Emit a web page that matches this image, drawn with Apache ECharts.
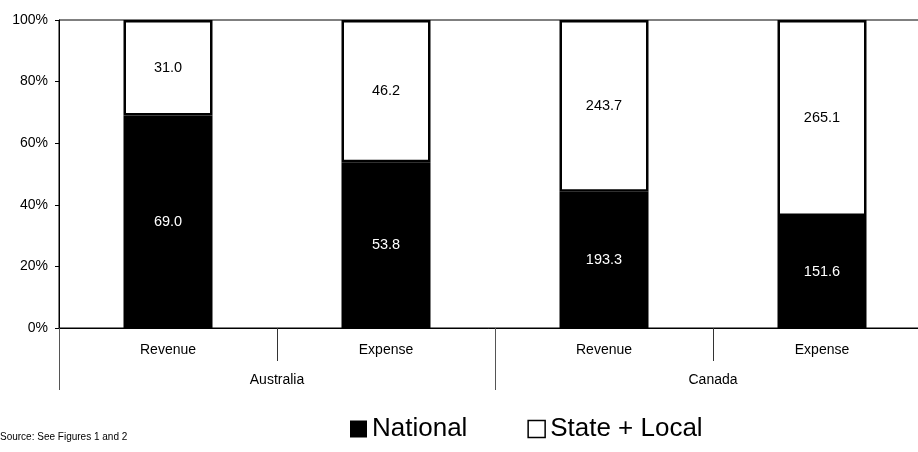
<!DOCTYPE html>
<html>
<head>
<meta charset="utf-8">
<script src="https://cdn.jsdelivr.net/npm/echarts@6/dist/echarts.min.js"></script>
<style>
html,body{margin:0;padding:0;background:#fff;}
#chart{width:918px;height:452px;}
</style>
</head>
<body>
<div id="chart"></div>
<script>
const categories = ["Revenue", "Expense", "Revenue", "Expense"];
const groups = ["Australia", "Canada"];
const nationalValues = [69.0, 53.8, 193.3, 151.6];
const stateLocalValues = [31.0, 46.2, 243.7, 265.1];
const yTicks = ["0%", "20%", "40%", "60%", "80%", "100%"];
const sourceNote = "Source: See Figures 1 and 2";

const FONT = "'Liberation Sans', Arial, sans-serif";
const totals = nationalValues.map((v, i) => v + stateLocalValues[i]);
const nationalShare = nationalValues.map((v, i) => ({value: v / totals[i] * 100, raw: v}));
const stateShare = stateLocalValues.map((v, i) => ({value: v / totals[i] * 100, raw: v}));

const chart = echarts.init(document.getElementById('chart'), null, {renderer: 'canvas'});
chart.setOption({
  animation: false,
  backgroundColor: '#fff',
  textStyle: {fontFamily: FONT},
  grid: {left: 59, top: 20, width: 872, height: 308, show: true, borderColor: '#000', borderWidth: 1,
    backgroundColor: 'transparent', containLabel: false, outerBoundsMode: 'none'},
  xAxis: [
    {
      type: 'category', data: categories, position: 'bottom',
      axisLine: {show: true, lineStyle: {color: '#000', width: 1}},
      axisTick: {show: true, interval: 0, alignWithLabel: false, length: 33, lineStyle: {color: '#333'}},
      axisLabel: {interval: 0, margin: 15, color: '#000', fontSize: 14, fontFamily: FONT},
      splitLine: {show: false}
    },
    {
      type: 'category', data: groups, position: 'bottom',
      axisLine: {show: false},
      axisTick: {show: true, interval: 0, alignWithLabel: false, length: 62, lineStyle: {color: '#555'}},
      axisLabel: {interval: 0, margin: 45, color: '#000', fontSize: 14, fontFamily: FONT},
      splitLine: {show: false}
    }
  ],
  yAxis: {
    type: 'value', min: 0, max: 100, interval: 20,
    axisLine: {show: true, lineStyle: {color: '#000', width: 1}},
    axisTick: {show: true, length: 4, lineStyle: {color: '#000'}},
    axisLabel: {margin: 11, color: '#000', fontSize: 14, fontFamily: FONT,
      formatter: (v) => yTicks[Math.round(v / 20)]},
    splitLine: {show: false}
  },
  legend: {
    left: 345, top: 411,
    itemWidth: 17, itemHeight: 17, itemGap: 60,
    textStyle: {fontSize: 26, color: '#000', fontFamily: FONT, padding: [0, 0, 0, 0]},
    data: [
      {name: 'National', icon: 'rect', itemStyle: {color: '#000', borderWidth: 0}},
      {name: 'State + Local', icon: 'rect', itemStyle: {color: '#fff', borderColor: '#000', borderWidth: 1.5}}
    ]
  },
  graphic: [{
    type: 'text', left: 0, top: 432,
    style: {text: sourceNote, fontSize: 10, fill: '#000', fontFamily: FONT}
  }],
  series: [
    {
      name: 'National', type: 'bar', stack: 'total', barWidth: 89,
      data: nationalShare,
      itemStyle: {color: '#000'},
      label: {show: true, position: 'inside', color: '#fff', fontSize: 14.5, fontFamily: FONT,
        formatter: (p) => p.data.raw.toFixed(1)}
    },
    {
      name: 'State + Local', type: 'bar', stack: 'total', barWidth: 89,
      data: stateShare,
      itemStyle: {color: '#fff', borderColor: '#000', borderWidth: 2.5},
      label: {show: true, position: 'inside', color: '#000', fontSize: 14.5, fontFamily: FONT,
        formatter: (p) => p.data.raw.toFixed(1)}
    }
  ]
});
</script>
</body>
</html>
